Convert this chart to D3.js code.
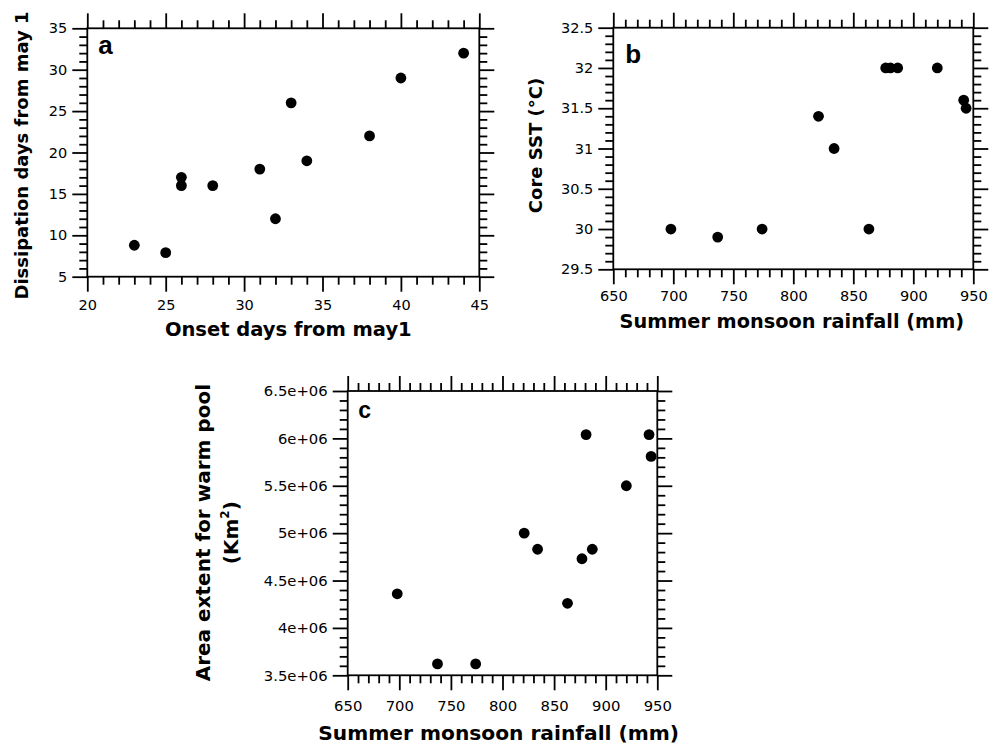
<!DOCTYPE html>
<html>
<head>
<meta charset="utf-8">
<script src="https://cdn.jsdelivr.net/npm/d3@7"></script>
<style>
  html, body { margin: 0; padding: 0; background: #fff; }
  svg { display: block; }
  .tick text { font-family: "DejaVu Sans", sans-serif; fill: #000; }
  .title { font-family: "DejaVu Sans", sans-serif; font-weight: bold; fill: #000; }
  .letter { font-family: "Liberation Sans", Arial, sans-serif; font-weight: bold; fill: #000; }
</style>
</head>
<body>
<svg id="chart" width="1001" height="745"></svg>
<script>
// ---- Data ----
const onsetDays = [23, 25, 26, 26, 28, 31, 32, 33, 34, 38, 40, 44];
const dissipationDays = [8.8, 7.9, 17, 16, 16, 18, 12, 26, 19, 22, 29, 32];

const rainfall = [698, 737, 774, 821, 834, 863, 877, 881, 887, 920, 942, 944];
const coreSST = [30, 29.9, 30, 31.4, 31, 30, 32, 32, 32, 32, 31.6, 31.5];
const warmPoolArea = [4.36e6, 3.62e6, 3.62e6, 5.0e6, 4.83e6, 4.26e6, 4.73e6, 6.04e6, 4.83e6, 5.5e6, 6.04e6, 5.81e6];

// Axis domains / tick specs
const aXDomain = [20, 45], aXMajor = 5, aXMinor = 1;
const aYDomain = [5, 35], aYMajor = 5, aYMinor = 1;
const bXDomain = [650, 950], bXMajor = 50, bXMinor = 10;
const bYDomain = [29.5, 32.5], bYMajor = 0.5, bYMinor = 0.1;
const cXDomain = [650, 950], cXMajor = 50, cXMinor = 10;
const cYDomain = [3.5e6, 6.5e6], cYMajor = 0.5e6, cYMinor = 1e5;

const svg = d3.select("#chart");
svg.append("rect").attr("width", 1001).attr("height", 745).attr("fill", "#fff");

function stepTicks(domain, step) {
  const n = Math.round((domain[1] - domain[0]) / step);
  return d3.range(n + 1).map(i => +(domain[0] + i * step).toFixed(6));
}
function minorTicks(domain, minorStep, majorStep) {
  const majors = stepTicks(domain, majorStep);
  return stepTicks(domain, minorStep).filter(v => !majors.some(m => Math.abs(m - v) < minorStep / 100));
}

function drawPanel(cfg) {
  const g = svg.append("g").attr("transform", `translate(${cfg.left},${cfg.top})`);
  const x = d3.scaleLinear().domain(cfg.xDomain).range([0, cfg.width]);
  const y = d3.scaleLinear().domain(cfg.yDomain).range([cfg.height, 0]);
  const majLen = 15, minLen = 8, sw = 1.8;

  const xMaj = stepTicks(cfg.xDomain, cfg.xMajor), xMin = minorTicks(cfg.xDomain, cfg.xMinor, cfg.xMajor);
  const yMaj = stepTicks(cfg.yDomain, cfg.yMajor), yMin = minorTicks(cfg.yDomain, cfg.yMinor, cfg.yMajor);

  function addAxis(axisGen, scale, values, len, labels, transform, pad) {
    const a = axisGen(scale).tickValues(values).tickSize(len).tickSizeOuter(0).tickPadding(pad || 4);
    if (labels) a.tickFormat(labels); else a.tickFormat("");
    const ag = g.append("g").attr("transform", transform).call(a);
    ag.select(".domain").remove();
    ag.selectAll("line").attr("stroke", "#000").attr("stroke-width", sw);
    ag.selectAll("text").attr("font-size", cfg.tickFont + "px").attr("fill", "#000");
    return ag;
  }
  // bottom
  addAxis(d3.axisBottom, x, xMaj, majLen, cfg.xFormat, `translate(0,${cfg.height})`, cfg.xPad);
  addAxis(d3.axisBottom, x, xMin, minLen, null, `translate(0,${cfg.height})`);
  // top
  addAxis(d3.axisTop, x, xMaj, majLen, null, `translate(0,0)`);
  addAxis(d3.axisTop, x, xMin, minLen, null, `translate(0,0)`);
  // left
  addAxis(d3.axisLeft, y, yMaj, majLen, cfg.yFormat, `translate(0,0)`, cfg.yPad);
  addAxis(d3.axisLeft, y, yMin, minLen, null, `translate(0,0)`);
  // right
  addAxis(d3.axisRight, y, yMaj, majLen, null, `translate(${cfg.width},0)`);
  addAxis(d3.axisRight, y, yMin, minLen, null, `translate(${cfg.width},0)`);

  // frame
  g.append("rect").attr("x", 0).attr("y", 0).attr("width", cfg.width).attr("height", cfg.height)
    .attr("fill", "none").attr("stroke", "#000").attr("stroke-width", sw);

  // points
  g.selectAll("circle.pt").data(cfg.xs.map((v, i) => [v, cfg.ys[i]])).enter()
    .append("circle").attr("class", "pt")
    .attr("cx", d => x(d[0])).attr("cy", d => y(d[1])).attr("r", 5.4).attr("fill", "#000");

  // panel letter
  g.append("text").attr("class", "letter").attr("x", cfg.letterX).attr("y", cfg.letterY)
    .attr("font-size", cfg.letterFont + "px").text(cfg.letter);

  // x title
  g.append("text").attr("class", "title").attr("text-anchor", "middle")
    .attr("x", cfg.width / 2 + cfg.xTitleDx).attr("y", cfg.height + cfg.xTitleDy)
    .attr("font-size", cfg.xTitleFont + "px").text(cfg.xTitle);

  // y title (one or more lines)
  cfg.yTitle.forEach((line, i) => {
    const t = g.append("text").attr("class", "title").attr("text-anchor", "middle")
      .attr("transform", `translate(${cfg.yTitleX[i]},${cfg.height / 2 + cfg.yTitleDy}) rotate(-90)`)
      .attr("font-size", cfg.yTitleFont + "px");
    if (typeof line === "string") t.text(line);
    else line.forEach(part => {
      const ts = t.append("tspan").text(part.t);
      if (part.sup) ts.attr("font-size", (cfg.yTitleFont * 0.6) + "px").attr("dy", "-0.75em");
      if (part.after) ts.attr("dy", "0.45em");
    });
  });
}

drawPanel({
  left: 87.3, top: 28.3, width: 392, height: 248.4,
  xDomain: aXDomain, xMajor: aXMajor, xMinor: aXMinor,
  yDomain: aYDomain, yMajor: aYMajor, yMinor: aYMinor,
  xs: onsetDays, ys: dissipationDays,
  xFormat: d3.format("d"), yFormat: d3.format("d"),
  tickFont: 14.5, xPad: 8, yPad: 5,
  letter: "a", letterX: 11, letterY: 26, letterFont: 26,
  xTitle: "Onset days from may1", xTitleDx: 5, xTitleDy: 59, xTitleFont: 19.5,
  yTitle: ["Dissipation days from may 1"], yTitleX: [-59], yTitleDy: 3, yTitleFont: 18
});

drawPanel({
  left: 613.3, top: 27.7, width: 360, height: 241.6,
  xDomain: bXDomain, xMajor: bXMajor, xMinor: bXMinor,
  yDomain: bYDomain, yMajor: bYMajor, yMinor: bYMinor,
  xs: rainfall, ys: coreSST,
  xFormat: d3.format("d"), yFormat: d => String(d),
  tickFont: 14.5, xPad: 6, yPad: 5,
  letter: "b", letterX: 12, letterY: 35, letterFont: 26,
  xTitle: "Summer monsoon rainfall (mm)", xTitleDx: -1.5, xTitleDy: 58.7, xTitleFont: 19.3,
  yTitle: ["Core SST (°C)"], yTitleX: [-71.6], yTitleDy: -3, yTitleFont: 18
});

drawPanel({
  left: 347.7, top: 391, width: 309.6, height: 284.3,
  xDomain: cXDomain, xMajor: cXMajor, xMinor: cXMinor,
  yDomain: cYDomain, yMajor: cYMajor, yMinor: cYMinor,
  xs: rainfall, ys: warmPoolArea,
  xFormat: d3.format("d"), yFormat: d => (d / 1e6) + "e+06",
  tickFont: 14.8, xPad: 10, yPad: 5,
  letter: "c", letterX: 10.5, letterY: 27.3, letterFont: 23,
  xTitle: "Summer monsoon rainfall (mm)", xTitleDx: -3.8, xTitleDy: 64.7, xTitleFont: 20.2,
  yTitle: ["Area extent for warm pool", [{t: "(Km"}, {t: "2", sup: true}, {t: ")", after: true}]],
  yTitleX: [-137.7, -109.4], yTitleDy: -0.5, yTitleFont: 20
});
</script>
</body>
</html>
